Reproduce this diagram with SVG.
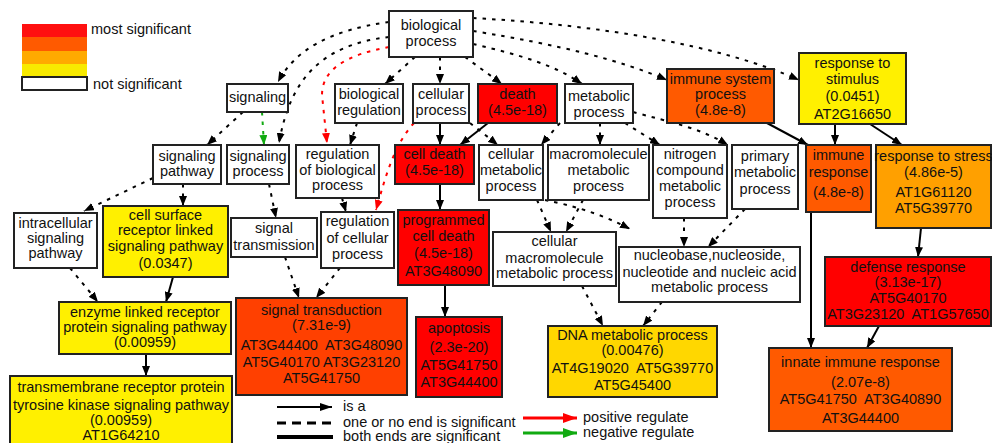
<svg xmlns="http://www.w3.org/2000/svg" width="992" height="443" viewBox="0 0 992 443">
<style>
.box{stroke:#222;stroke-width:2}
.t{font-family:"Liberation Sans",Arial,sans-serif;font-size:14.5px;fill:#111;text-anchor:middle}
.lt{font-family:"Liberation Sans",Arial,sans-serif;font-size:14.5px;fill:#111}
.d{fill:none;stroke:#000;stroke-width:2;stroke-dasharray:3.5 6;marker-end:url(#ab)}
.s{fill:none;stroke:#000;stroke-width:2;marker-end:url(#ab)}
.r{stroke:#f00;marker-end:url(#ar)}
.g{stroke:#1a1;marker-end:url(#ag)}
.w{fill:#fff}.red{fill:#ff0000}.or{fill:#ff5a00}.or2{fill:#ff4000}.ye{fill:#fff000}.am{fill:#ffa000}.gd{fill:#ffd700}
</style>
<defs>
<marker id="ab" viewBox="0 0 10 8" refX="10" refY="4" markerWidth="10" markerHeight="8" markerUnits="userSpaceOnUse" orient="auto"><path d="M0,0L10,4L0,8z" fill="#000"/></marker>
<marker id="ar" viewBox="0 0 10 8" refX="10" refY="4" markerWidth="10" markerHeight="8" markerUnits="userSpaceOnUse" orient="auto"><path d="M0,0L10,4L0,8z" fill="#f00"/></marker>
<marker id="ag" viewBox="0 0 10 8" refX="10" refY="4" markerWidth="10" markerHeight="8" markerUnits="userSpaceOnUse" orient="auto"><path d="M0,0L10,4L0,8z" fill="#1a1"/></marker>
<marker id="lar" viewBox="0 0 14 10" refX="14" refY="5" markerWidth="14" markerHeight="10" markerUnits="userSpaceOnUse" orient="auto"><path d="M0,0L14,5L0,10z" fill="#f00"/></marker>
<marker id="lag" viewBox="0 0 14 10" refX="14" refY="5" markerWidth="14" markerHeight="10" markerUnits="userSpaceOnUse" orient="auto"><path d="M0,0L14,5L0,10z" fill="#1a1"/></marker>
<marker id="lab" viewBox="0 0 12 8" refX="12" refY="4" markerWidth="12" markerHeight="8" markerUnits="userSpaceOnUse" orient="auto"><path d="M0,0L12,4L0,8z" fill="#000"/></marker>
</defs>

<g id="legend">
<rect x="22" y="24" width="65" height="13" fill="#ff1010"/>
<rect x="22" y="37" width="65" height="14" fill="#ff5a00"/>
<rect x="22" y="51" width="65" height="13" fill="#ffaa00"/>
<rect x="22" y="64" width="65" height="12" fill="#f8ea00"/>
<rect x="22" y="77" width="65" height="13" class="box w"/>
<text class="lt" x="91" y="34">most significant</text>
<text class="lt" x="93" y="89">not significant</text>
<line x1="277" y1="407" x2="332" y2="407" stroke="#000" stroke-width="2" marker-end="url(#lab)"/>
<line x1="277" y1="423" x2="333" y2="423" stroke="#000" stroke-width="3" stroke-dasharray="9 6"/>
<line x1="277" y1="437" x2="333" y2="437" stroke="#000" stroke-width="4"/>
<text class="lt" x="343" y="411">is a</text>
<text class="lt" x="343" y="427">one or no end is significant</text>
<text class="lt" x="343" y="441">both ends are significant</text>
<line x1="523" y1="418" x2="577" y2="418" stroke="#f00" stroke-width="3" marker-end="url(#lar)"/>
<line x1="523" y1="433" x2="577" y2="433" stroke="#1a1" stroke-width="3" marker-end="url(#lag)"/>
<text class="lt" x="583" y="422">positive regulate</text>
<text class="lt" x="583" y="437">negative regulate</text>
</g>

<g id="connectors">
<path class="d" d="M389,22 C330,30 295,50 278,82"/>
<path class="d" d="M389,37 C320,45 290,80 279,143"/>
<path class="d r" d="M389,47 C345,55 322,70 322,95 L327,143"/>
<path class="d" d="M415,57 L385,84"/>
<path class="d" d="M440,57 L440,84"/>
<path class="d" d="M465,57 L502,84"/>
<path class="d" d="M473,44 C520,55 555,65 582,84"/>
<path class="d" d="M473,31 C560,45 620,60 667,80"/>
<path class="d" d="M473,18 C600,25 720,45 799,80"/>
<path class="d" d="M243,112 L207,145"/>
<path class="d g" d="M262,112 L264,145"/>
<path class="d" d="M153,178 L84,211"/>
<path class="d" d="M183,184 L183,206"/>
<path class="d" d="M269,184 L276,218"/>
<path class="d" d="M357,123 L350,145"/>
<path class="d" d="M342,198 L346,212"/>
<path class="d r" d="M414,123 C394,145 386,175 376,210"/>
<path class="s" d="M440,123 L440,145"/>
<path class="s" d="M488,123 L460,145"/>
<path class="d" d="M470,123 L498,145"/>
<path class="d" d="M560,123 L541,145"/>
<path class="d" d="M600,123 L600,145"/>
<path class="d" d="M625,123 L660,145"/>
<path class="d" d="M633,112 C670,122 700,128 728,145"/>
<path class="d" d="M537,200 L551,232"/>
<path class="d" d="M583,200 L566,232"/>
<path class="d" d="M545,200 C570,205 600,213 630,229"/>
<path class="d" d="M684,218 L684,247"/>
<path class="d" d="M745,209 L708,247"/>
<path class="d" d="M285,257 L299,298"/>
<path class="d" d="M340,268 L316,298"/>
<path class="d" d="M70,268 L98,302"/>
<path class="s" d="M173,277 L166,302"/>
<path class="s" d="M146,354 L146,376"/>
<path class="s" d="M440,184 L440,210"/>
<path class="s" d="M445,285 L445,317"/>
<path class="d" d="M582,286 L603,326"/>
<path class="d" d="M662,302 L643,326"/>
<path class="s" d="M767,123 L808,145"/>
<path class="s" d="M835,124 L835,145"/>
<path class="s" d="M870,124 L902,145"/>
<path class="s" d="M811,212 L811,348"/>
<path class="s" d="M921,228 L918,257"/>
<path class="s" d="M879,326 L867,348"/>
</g>

<g id="n_bio"><rect x="389" y="11" width="84" height="46" class="box w"/><text class="t" x="431"><tspan x="431" y="30">biological</tspan><tspan x="431" y="46">process</tspan></text></g>
<g id="n_signaling"><rect x="227" y="84" width="61" height="28" class="box w"/><text class="t" x="257.5" y="102">signaling</text></g>
<g id="n_bioreg"><rect x="335" y="84" width="68" height="39" class="box w"/><text class="t"><tspan x="369" y="99">biological</tspan><tspan x="369" y="115">regulation</tspan></text></g>
<g id="n_cellproc"><rect x="413" y="84" width="56" height="39" class="box w"/><text class="t"><tspan x="441" y="99">cellular</tspan><tspan x="441" y="115">process</tspan></text></g>
<g id="n_death"><rect x="478" y="84" width="79" height="39" class="box red"/><text class="t"><tspan x="517.5" y="99">death</tspan><tspan x="517.5" y="115">(4.5e-18)</tspan></text></g>
<g id="n_metab"><rect x="565" y="84" width="68" height="39" class="box w"/><text class="t"><tspan x="599" y="101">metabolic</tspan><tspan x="599" y="117">process</tspan></text></g>
<g id="n_immsys"><rect x="667" y="69" width="107" height="54" class="box or"/><text class="t"><tspan x="720.5" y="84">immune system</tspan><tspan x="720.5" y="99">process</tspan><tspan x="720.5" y="115">(4.8e-8)</tspan></text></g>
<g id="n_stim"><rect x="799" y="53" width="107" height="71" class="box ye"/><text class="t"><tspan x="852.5" y="68">response to</tspan><tspan x="852.5" y="84">stimulus</tspan><tspan x="852.5" y="101">(0.0451)</tspan><tspan x="852.5" y="119">AT2G16650</tspan></text></g>

<g id="n_sigpath"><rect x="153" y="145" width="68" height="39" class="box w"/><text class="t"><tspan x="187" y="161">signaling</tspan><tspan x="187" y="176">pathway</tspan></text></g>
<g id="n_sigproc"><rect x="227" y="145" width="62" height="39" class="box w"/><text class="t"><tspan x="258" y="161">signaling</tspan><tspan x="258" y="176">process</tspan></text></g>
<g id="n_regbio"><rect x="296" y="145" width="83" height="53" class="box w"/><text class="t"><tspan x="337.5" y="159">regulation</tspan><tspan x="337.5" y="175">of biological</tspan><tspan x="337.5" y="190">process</tspan></text></g>
<g id="n_celldeath"><rect x="395" y="145" width="79" height="39" class="box red"/><text class="t"><tspan x="434.5" y="159">cell death</tspan><tspan x="434.5" y="175">(4.5e-18)</tspan></text></g>
<g id="n_cellmet"><rect x="479" y="145" width="64" height="55" class="box w"/><text class="t"><tspan x="511" y="159">cellular</tspan><tspan x="511" y="175">metabolic</tspan><tspan x="511" y="191">process</tspan></text></g>
<g id="n_macro"><rect x="548" y="145" width="101" height="55" class="box w"/><text class="t"><tspan x="598.5" y="159">macromolecule</tspan><tspan x="598.5" y="175">metabolic</tspan><tspan x="598.5" y="191">process</tspan></text></g>
<g id="n_nitro"><rect x="653" y="145" width="74" height="73" class="box w"/><text class="t"><tspan x="690" y="159">nitrogen</tspan><tspan x="690" y="175">compound</tspan><tspan x="690" y="191">metabolic</tspan><tspan x="690" y="207">process</tspan></text></g>
<g id="n_primary"><rect x="732" y="145" width="66" height="64" class="box w"/><text class="t"><tspan x="765" y="161">primary</tspan><tspan x="765" y="177">metabolic</tspan><tspan x="765" y="194">process</tspan></text></g>
<g id="n_immresp"><rect x="806" y="145" width="65" height="67" class="box or"/><text class="t"><tspan x="838.5" y="160">immune</tspan><tspan x="838.5" y="177">response</tspan><tspan x="838.5" y="197">(4.8e-8)</tspan></text></g>
<g id="n_stress"><rect x="876" y="145" width="115" height="83" class="box am"/><text class="t"><tspan x="933.5" y="161">response to stress</tspan><tspan x="933.5" y="177">(4.86e-5)</tspan><tspan x="933.5" y="197">AT1G61120</tspan><tspan x="933.5" y="213">AT5G39770</tspan></text></g>

<g id="n_intra"><rect x="14" y="213" width="83" height="55" class="box w"/><text class="t"><tspan x="55.5" y="228">intracellular</tspan><tspan x="55.5" y="243">signaling</tspan><tspan x="55.5" y="258">pathway</tspan></text></g>
<g id="n_cellsurf"><rect x="103" y="206" width="125" height="71" class="box ye"/><text class="t"><tspan x="165.5" y="220">cell surface</tspan><tspan x="165.5" y="235">receptor linked</tspan><tspan x="165.5" y="251">signaling pathway</tspan><tspan x="165.5" y="268">(0.0347)</tspan></text></g>
<g id="n_sigtrans"><rect x="231" y="218" width="86" height="39" class="box w"/><text class="t"><tspan x="274" y="233">signal</tspan><tspan x="274" y="250">transmission</tspan></text></g>
<g id="n_regcell"><rect x="321" y="212" width="73" height="56" class="box w"/><text class="t"><tspan x="357.5" y="226">regulation</tspan><tspan x="357.5" y="243">of cellular</tspan><tspan x="357.5" y="259">process</tspan></text></g>
<g id="n_pcd"><rect x="398" y="210" width="91" height="75" class="box red"/><text class="t"><tspan x="443.5" y="225">programmed</tspan><tspan x="443.5" y="241">cell death</tspan><tspan x="443.5" y="258">(4.5e-18)</tspan><tspan x="443.5" y="276">AT3G48090</tspan></text></g>
<g id="n_cellmacro"><rect x="493" y="232" width="123" height="54" class="box w"/><text class="t"><tspan x="554.5" y="246">cellular</tspan><tspan x="554.5" y="263">macromolecule</tspan><tspan x="554.5" y="278">metabolic process</tspan></text></g>
<g id="n_nucleo"><rect x="619" y="247" width="181" height="55" class="box w"/><text class="t"><tspan x="709.5" y="260">nucleobase,nucleoside,</tspan><tspan x="709.5" y="277">nucleotide and nucleic acid</tspan><tspan x="709.5" y="292">metabolic process</tspan></text></g>
<g id="n_defense"><rect x="825" y="257" width="166" height="69" class="box red"/><text class="t" xml:space="preserve"><tspan x="908" y="272">defense response</tspan><tspan x="908" y="287">(3.13e-17)</tspan><tspan x="908" y="303">AT5G40170</tspan><tspan x="908" y="319">AT3G23120  AT1G57650</tspan></text></g>

<g id="n_enzyme"><rect x="59" y="302" width="172" height="52" class="box ye"/><text class="t"><tspan x="145" y="317">enzyme linked receptor</tspan><tspan x="145" y="332">protein signaling pathway</tspan><tspan x="145" y="347">(0.00959)</tspan></text></g>
<g id="n_transm"><rect x="10" y="376" width="222" height="80" class="box ye"/><text class="t"><tspan x="121" y="392">transmembrane receptor protein</tspan><tspan x="121" y="410">tyrosine kinase signaling pathway</tspan><tspan x="121" y="425">(0.00959)</tspan><tspan x="121" y="440">AT1G64210</tspan></text></g>
<g id="n_sigtd"><rect x="236" y="298" width="171" height="97" class="box or2"/><text class="t" xml:space="preserve"><tspan x="321.5" y="315">signal transduction</tspan><tspan x="321.5" y="330">(7.31e-9)</tspan><tspan x="321.5" y="350">AT3G44400  AT3G48090</tspan><tspan x="321.5" y="367">AT5G40170 AT3G23120</tspan><tspan x="321.5" y="383">AT5G41750</tspan></text></g>
<g id="n_apop"><rect x="416" y="317" width="86" height="80" class="box red"/><text class="t"><tspan x="459" y="333">apoptosis</tspan><tspan x="459" y="352">(2.3e-20)</tspan><tspan x="459" y="370">AT5G41750</tspan><tspan x="459" y="387">AT3G44400</tspan></text></g>
<g id="n_dna"><rect x="548" y="326" width="169" height="71" class="box gd"/><text class="t" xml:space="preserve"><tspan x="632.5" y="340">DNA metabolic process</tspan><tspan x="632.5" y="355">(0.00476)</tspan><tspan x="632.5" y="373">AT4G19020  AT5G39770</tspan><tspan x="632.5" y="390">AT5G45400</tspan></text></g>
<g id="n_innate"><rect x="769" y="348" width="183" height="83" class="box or"/><text class="t" xml:space="preserve"><tspan x="860.5" y="367">innate immune response</tspan><tspan x="860.5" y="387">(2.07e-8)</tspan><tspan x="860.5" y="404">AT5G41750  AT3G40890</tspan><tspan x="860.5" y="423">AT3G44400</tspan></text></g>
</svg>
